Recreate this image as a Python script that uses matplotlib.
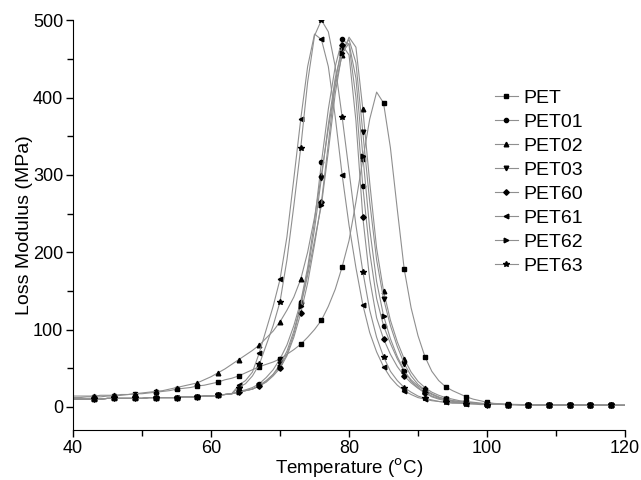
import numpy as np
import matplotlib
matplotlib.use('Agg')
import matplotlib.pyplot as plt

plt.rcParams['font.family'] = ['Liberation Sans', 'DejaVu Sans']

# temperatures, 1 degC steps from 40 to 120
temp = list(range(40, 121))

# shared low-temperature baseline (40..63 C) and high-temperature tail (101..120 C)
base_low = [10, 10, 10, 10, 10, 11, 11, 11, 11, 11, 11, 12,
            12, 12, 12, 12, 13, 13, 13, 14, 14, 15, 16, 17]
tail = [3.5, 3.2, 3, 3, 2.8, 2.7, 2.6, 2.5, 2.5, 2.4,
        2.4, 2.3, 2.3, 2.2, 2.2, 2.2, 2.1, 2.1, 2.0, 2.0]

pet = [12, 12, 13, 13, 13, 14, 14, 15, 16, 17, 17, 18, 19, 20, 21, 23, 24, 25,
       27, 28, 30, 32, 35, 37, 40, 44, 48, 52, 55, 58, 62, 68, 74, 81, 90, 100,
       112, 130, 152, 181, 215, 265, 320, 372, 407, 393, 335, 255, 178, 128, 92,
       65, 46, 34, 26, 21, 17, 13, 10, 8, 6] + [4.5, 4, 3.5, 3.2, 3, 2.8, 2.7, 2.6,
       2.5, 2.5, 2.4, 2.4, 2.3, 2.3, 2.2, 2.2, 2.1, 2.1, 2.0, 2.0]

pet01 = base_low + [20, 22, 25, 30, 38, 48, 62, 80, 105, 136, 180, 240, 316, 385,
        440, 475, 468, 400, 285, 200, 140, 105, 82, 62, 46, 35, 27, 21, 16, 12,
        10, 8, 7, 6, 5, 4, 4] + tail

pet02 = [14, 14, 14, 14, 15, 15, 15, 16, 16, 17, 18, 19, 20, 21, 23, 25, 27, 29,
         31, 35, 39, 44, 49, 55, 61, 67, 73, 80, 89, 98, 110, 125, 142, 165, 200,
         245, 300, 360, 415, 455, 478, 465, 385, 290, 205, 150, 112, 84, 62, 45,
         33, 25, 19, 15, 12, 10, 8, 7, 6, 5, 4] + tail

pet03 = base_low + [19, 21, 23, 27, 33, 42, 55, 72, 98, 132, 175, 230, 296, 365,
        425, 462, 475, 445, 355, 265, 190, 140, 105, 78, 56, 40, 29, 22, 17, 13,
        10, 8, 7, 6, 5, 4, 4] + tail

pet60 = base_low + [19, 21, 23, 27, 32, 40, 50, 66, 90, 121, 160, 210, 265, 340,
        420, 468, 455, 370, 245, 165, 115, 88, 68, 52, 40, 31, 24, 18, 13, 10,
        8, 6, 5, 5, 4, 4, 3] + tail

pet61 = base_low + [28, 34, 45, 70, 100, 130, 165, 220, 295, 372, 440, 482, 475,
        440, 375, 300, 235, 180, 132, 96, 71, 52, 38, 28, 21, 16, 12, 10, 8, 7,
        6, 5, 5, 4, 4, 4, 3] + tail

pet62 = base_low + [19, 21, 23, 28, 34, 42, 52, 68, 94, 130, 170, 215, 261, 330,
        405, 458, 470, 425, 325, 230, 162, 118, 88, 65, 47, 33, 25, 19, 14, 11,
        9, 7, 6, 5, 5, 4, 4] + tail

pet63 = base_low + [25, 30, 40, 55, 80, 105, 136, 190, 260, 335, 420, 480, 500,
        485, 440, 375, 305, 235, 175, 125, 90, 65, 46, 34, 25, 19, 14, 11, 9, 7,
        6, 5, 5, 4, 4, 3, 3] + tail

labels = ['PET', 'PET01', 'PET02', 'PET03', 'PET60', 'PET61', 'PET62', 'PET63']
series = [pet, pet01, pet02, pet03, pet60, pet61, pet62, pet63]
markers = ['s', 'o', '^', 'v', 'D', '<', '>', '*']
msizes = [2.8, 3, 3.3, 3.3, 2.8, 3.3, 3.3, 3.8]

fig = plt.figure(figsize=(6.41, 4.8), dpi=100)
ax = fig.add_axes([0.114, 0.104, 0.861, 0.854])

for y, lab, m, ms in zip(series, labels, markers, msizes):
    ax.plot(temp, y, color='#8f8f8f', lw=0.8, marker=m, ms=ms,
            mfc='black', mec='black', markevery=(3, 3), label=lab)

ax.set_xlim(40, 120)
ax.set_ylim(-30, 500)
ax.set_xticks([40, 60, 80, 100, 120])
ax.set_xticks([50, 70, 90, 110], minor=True)
ax.set_yticks([0, 100, 200, 300, 400, 500])
ax.set_yticks([50, 150, 250, 350, 450], minor=True)
ax.spines['top'].set_visible(False)
ax.spines['right'].set_visible(False)
ax.tick_params(which='major', direction='out', length=5, width=1, labelsize=13, pad=2)
ax.tick_params(which='minor', direction='out', length=4, width=1)

ax.set_xlabel(r'Temperature ($^{\mathrm{o}}$C)', fontsize=13.5, labelpad=0)
ax.set_ylabel('Loss Modulus (MPa)', fontsize=14, labelpad=0)

ax.legend(loc='upper left', bbox_to_anchor=(0.732, 0.875), frameon=False,
          numpoints=1, fontsize=14, handlelength=1.2, handletextpad=0.3,
          labelspacing=0.33)

fig.savefig('out.png', dpi=100)
